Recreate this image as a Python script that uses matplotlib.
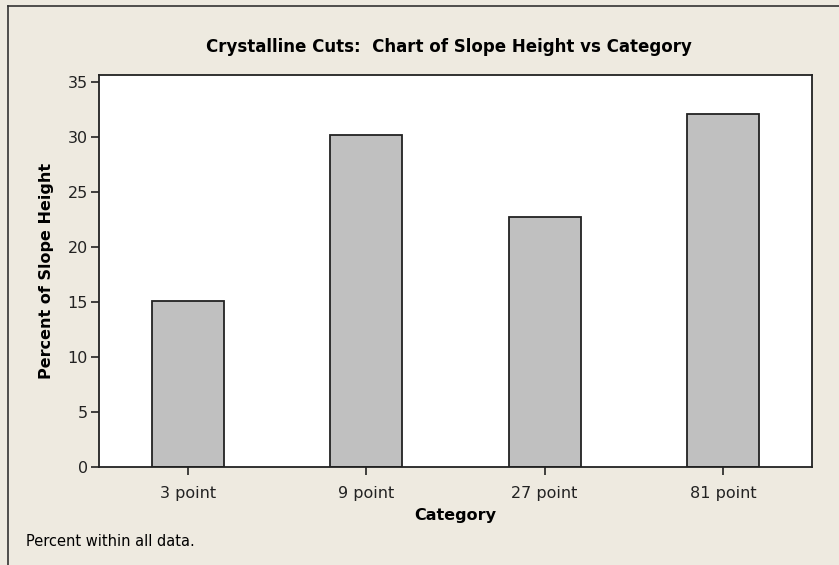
import matplotlib.pyplot as plt
from matplotlib.lines import Line2D

categories = ["3 point", "9 point", "27 point", "81 point"]
values = [15.1, 30.2, 22.7, 32.1]
yticks = [0, 5, 10, 15, 20, 25, 30, 35]

W, H = 839, 565
bg = "#eeeae0"

fig = plt.figure(figsize=(W / 100, H / 100), dpi=100, facecolor=bg)
ax = fig.add_axes([99 / W, 1 - 467 / H, (812 - 99) / W, (467 - 75) / H])
ax.set_facecolor("white")

x = list(range(len(categories)))
ax.bar(x, values, width=0.403, color="#c0c0c0", edgecolor="#222222", linewidth=1.3)

ax.set_xlim(-0.5, 3.5)
ax.set_ylim(0, 35.64)
ax.set_yticks(yticks)
ax.set_xticks(x)
ax.set_xticklabels(categories)
ax.tick_params(axis="both", labelsize=11.5, colors="#222222", length=6, width=1.2)
ax.tick_params(axis="x", pad=8)
ax.tick_params(axis="y", pad=2)
for s in ax.spines.values():
    s.set_linewidth(1.3)
    s.set_color("#222222")

ax.set_ylabel("Percent of Slope Height", fontsize=11.5, fontweight="bold", labelpad=10)
ax.set_xlabel("Category", fontsize=11.5, fontweight="bold", labelpad=5)
fig.text(449 / W, 1 - 47 / H, "Crystalline Cuts:  Chart of Slope Height vs Category",
         ha="center", va="center", fontsize=12, fontweight="bold")
fig.text(26 / W, 1 - 542 / H, "Percent within all data.", ha="left", va="center", fontsize=10.5)

# outer frame on left and top
fig.add_artist(Line2D([8 / W, 8 / W], [0, 1 - 6 / H], color="#333333", lw=1.2))
fig.add_artist(Line2D([8 / W, 1], [1 - 6 / H, 1 - 6 / H], color="#333333", lw=1.2))

fig.savefig("out.png", dpi=100, facecolor=bg)
